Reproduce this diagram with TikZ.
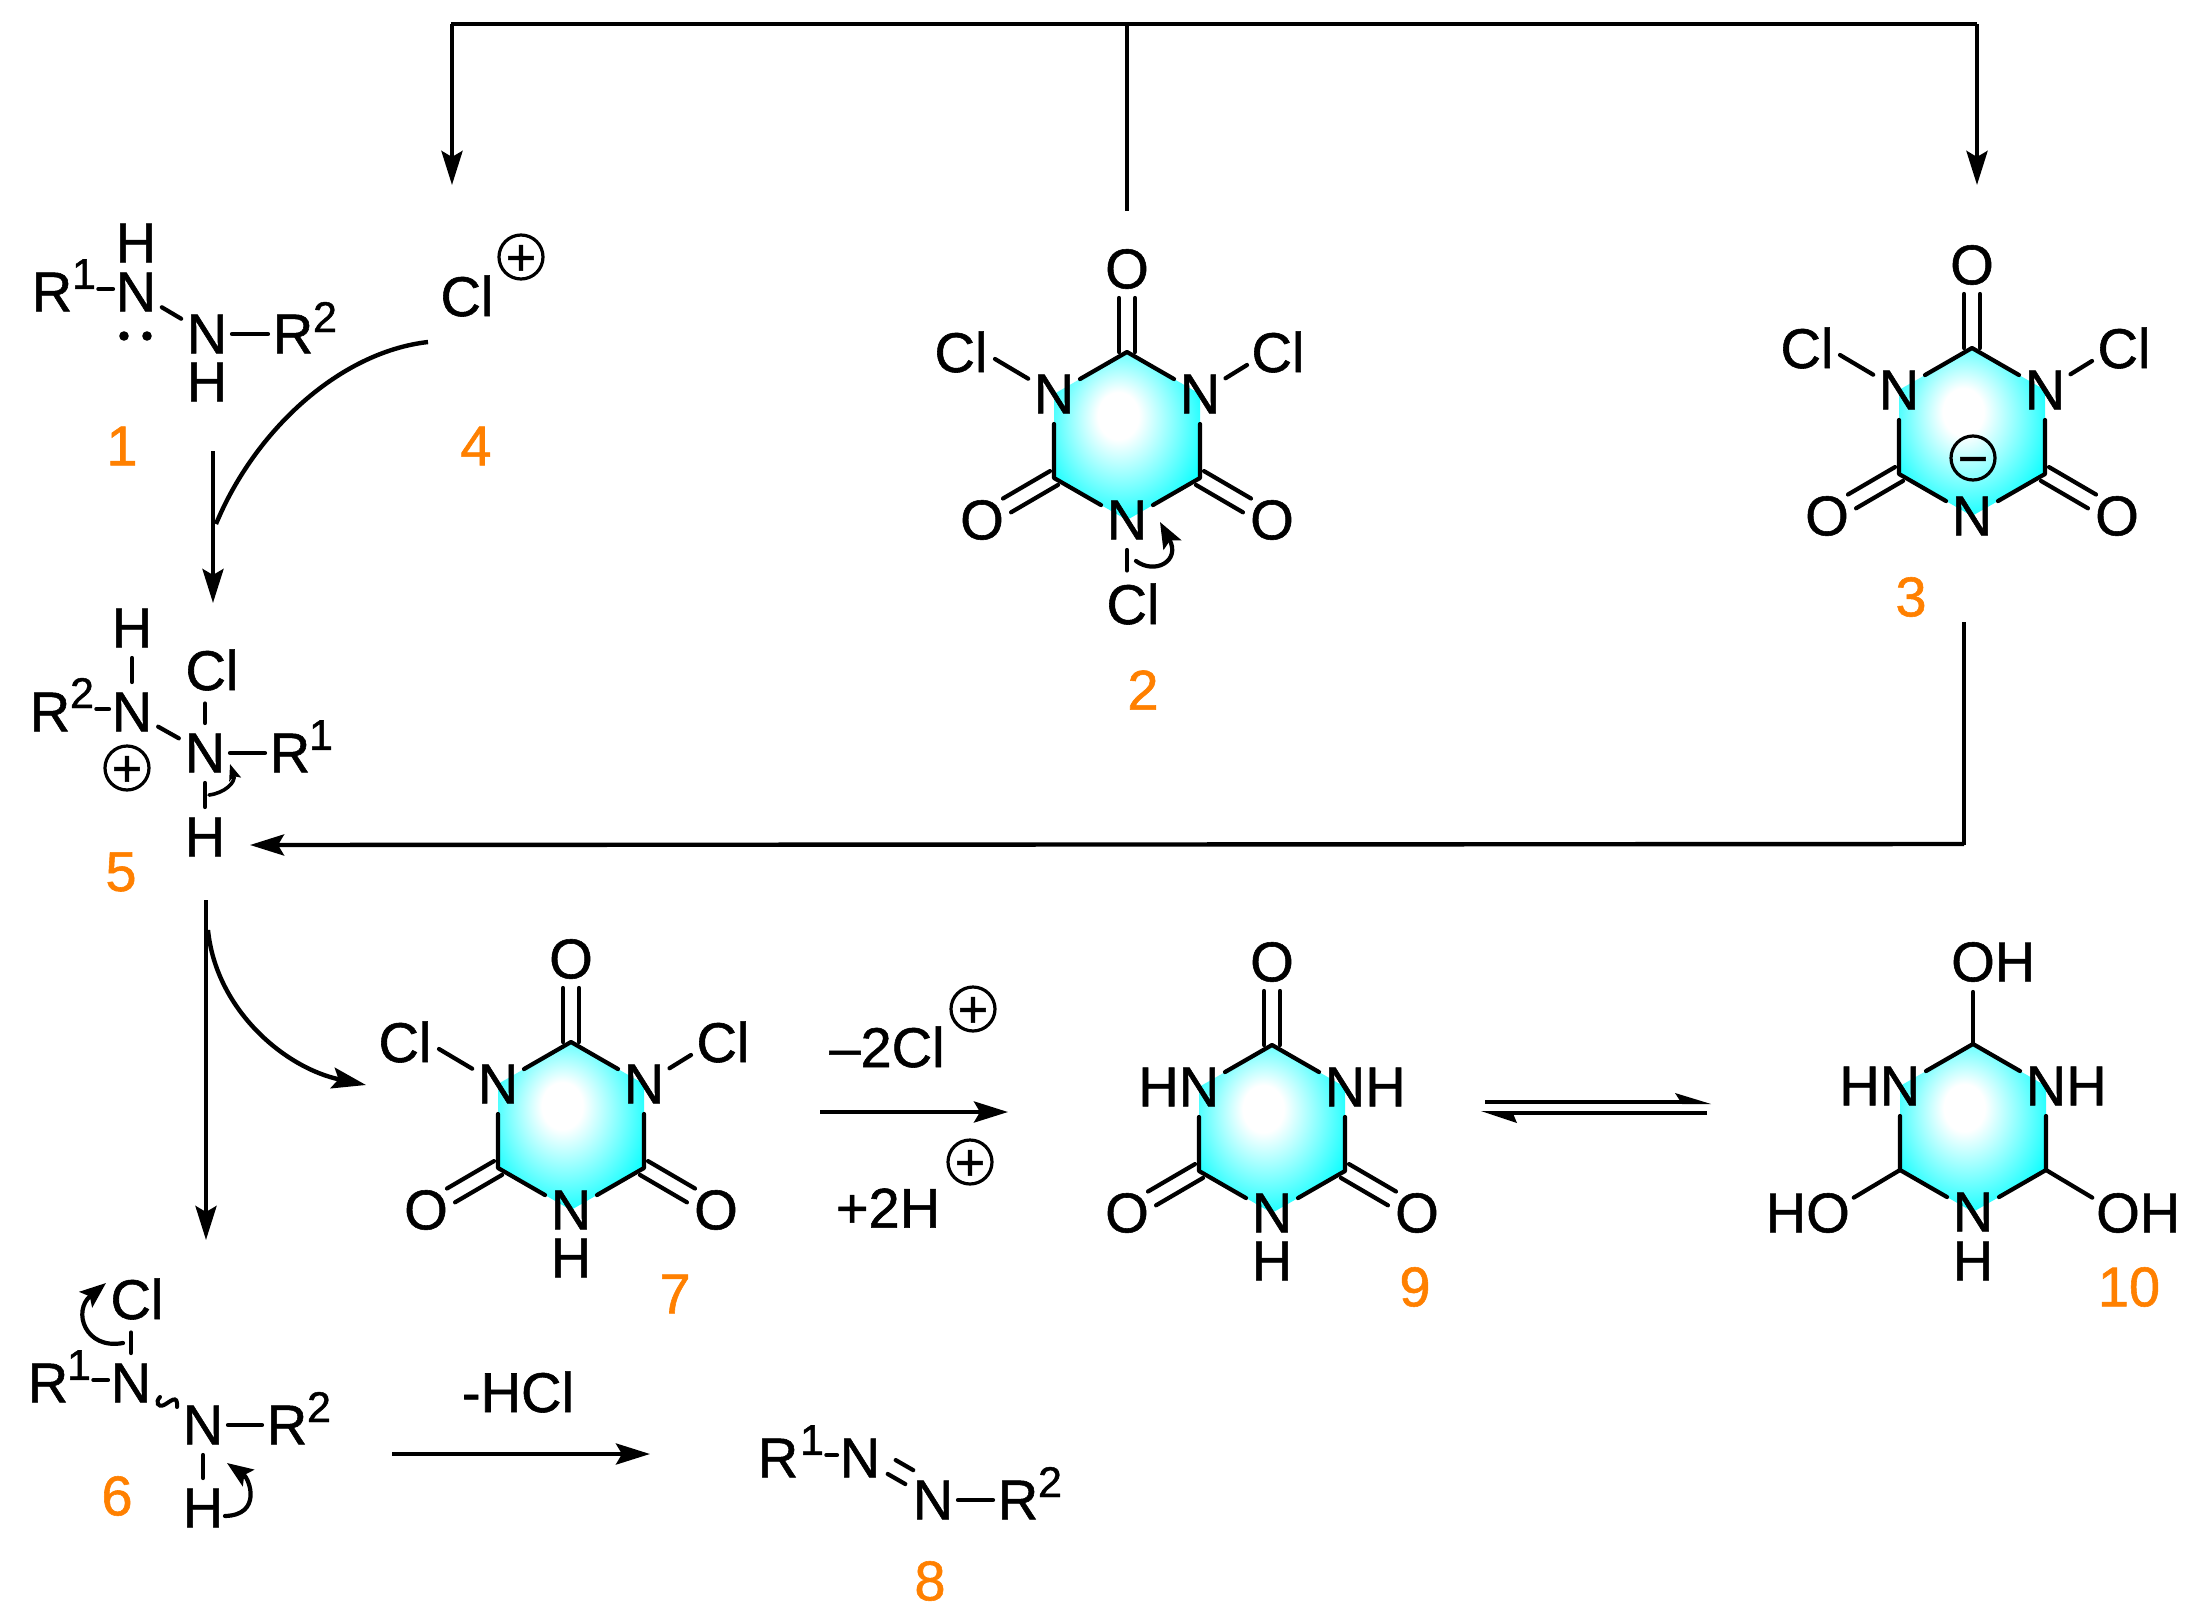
\documentclass[tikz,border=0pt]{standalone}
\usepackage{fontspec}
\setmainfont[FakeBold=1]{Liberation Sans}
\usetikzlibrary{arrows.meta,calc}
\definecolor{ringcyan}{RGB}{10,255,255}
\definecolor{numorange}{RGB}{255,128,0}
\pgfdeclareradialshading{ringglow}{\pgfpoint{-3.5bp}{7bp}}{color(0bp)=(white); color(7bp)=(white); color(30bp)=(ringcyan); color(50bp)=(ringcyan)}
\newcommand\mainfs{\fontsize{28}{30}\selectfont}
\newcommand\supfs{\fontsize{21.5}{23}\selectfont}
\newcommand\chgfs{\fontsize{26}{26}\selectfont}
\newcommand\chg[1]{\smash{\raisebox{-.35em}{#1}}}
\tikzset{
  atom/.style={circle,inner sep=0pt,outer sep=0pt,minimum size=30pt,font=\mainfs},
  txt/.style={inner sep=0pt,font=\mainfs},
  supn/.style={inner sep=0pt,font=\supfs},
  num/.style={inner sep=0pt,font=\mainfs,text=numorange},
  chargec/.style={circle,draw,line width=1.6pt,minimum size=22pt,inner sep=0pt,font=\chgfs},
  pairdot/.style={circle,fill,minimum size=4.8pt,inner sep=0pt},
  bond/.style={line width=2.1pt,line cap=round,line join=round},
  hbond/.style={bond,shorten >=-2.5pt,shorten <=-2.5pt},
  wire/.style={line width=2.2pt},
  arr/.style={line width=2.2pt,-{Stealth[length=17pt,width=10.5pt,inset=3pt]}},
  curlyb/.style={line width=2.1pt,line cap=round,-{Stealth[length=13pt,width=10pt,inset=2.5pt]}},
  curlys/.style={line width=1.8pt,line cap=round,-{Stealth[length=8pt,width=6pt,inset=1.5pt]}},
}
% ring with three ring atoms, inside a shifted, prefixed scope
\newcommand\RingCore[2]{%
  \shade[shading=ringglow] (0,-84) -- (73,-42) -- (73,42) -- (0,84) -- (-73,42) -- (-73,-42) -- cycle;
  \coordinate (c1) at (0,-84);
  \coordinate (c2) at (-73,42);
  \coordinate (c3) at (73,42);
  \node[atom] (nl) at (-73,-42) {#1};
  \node[atom] (nr) at (73,-42) {#2};
  \node[atom] (nb) at (0,84) {N};
  \draw[bond] (nl) -- (c1) -- (nr);
  \draw[bond] (nl) -- (c2) -- (nb) -- (c3) -- (nr);
}
\newcommand\DblO[2]{%
  \draw[bond,shorten >=14.5pt] ($(#1)!4pt!90:(#2)$) -- ($(#2)!4pt!-90:(#1)$);
  \draw[bond,shorten >=14.5pt] ($(#1)!4pt!-90:(#2)$) -- ($(#2)!4pt!90:(#1)$);
}
\newcommand\ThreeKeto{%
  \node[atom] (ot) at (0,-167) {O};
  \node[atom] (oa) at (-145,84) {O};
  \node[atom] (ob) at (145,84) {O};
  \DblO{c1}{ot}\DblO{c2}{oa}\DblO{c3}{ob}
}
\newcommand\ClArms[2]{%
  \node[atom] (cla) at (#1,-84) {Cl};
  \node[atom] (clb) at (#2,-84) {Cl};
  \coordinate (claend) at (-132,-77);
  \coordinate (clbend) at (120,-71);
  \draw[bond] (nl) -- (claend);
  \draw[bond] (nr) -- (clbend);
}
\newcommand\SupDash[2]{%
  \draw[bond] ($(#1.east |- #2.west)+(2,-3)$) -- ($(#2.west)+(7,-3)$);
}
\begin{document}
\begin{tikzpicture}[x=0.5pt,y=-0.5pt]
\path[use as bounding box,fill=white] (0,0) rectangle (2202,1622);

% top distributor
\coordinate (tl) at (451,24);
\coordinate (tm) at (1127,24);
\coordinate (tr) at (1977,24);
\coordinate (tlend) at (452,185);
\coordinate (tmend) at (1127,211);
\coordinate (trend) at (1977,185);
\draw[wire] (tl) -- (tr);
\draw[wire] (tm) -- (tmend);
\draw[arr] (452,24) -- (tlend);
\draw[arr] (1977,24) -- (trend);

% molecule 1
\node[atom] (a1r) at (52,292) {R};
\node[supn] (a1s) at (84,274) {1};
\node[atom] (a1n) at (136,292) {N};
\node[atom] (a1h) at (136,243) {H};
\node[pairdot] (a1d) at (124,336) {};
\node[pairdot] (a1e) at (147,336) {};
\node[atom] (a1m) at (207,334) {N};
\node[atom] (a1i) at (207,382) {H};
\node[atom] (a1q) at (293,334) {R};
\node[supn] (a1t) at (325,317) {2};
\SupDash{a1s}{a1n}
\draw[bond] (a1n) -- (a1m);
\draw[hbond] (a1m) -- (a1q);
\node[num] (l1) at (122,446) {1};

% Cl+ 4
\node[txt] (cl4) at (467,296) {Cl};
\node[chargec] (cl4c) at (521,257) {\chg{+}};
\node[num] (l4) at (476,446) {4};
\coordinate (m1top) at (213,451);
\coordinate (m5tip) at (213,603);
\coordinate (cu4s) at (428,342);
\coordinate (cu4e) at (216,524);
\draw[arr] (m1top) -- (m5tip);
\draw[line width=2.2pt] (cu4s) .. controls (340,352) and (255,430) .. (cu4e);

% molecule 2
\begin{scope}[shift={(1127,436)},name prefix=b-]
  \RingCore{N}{N}
  \ThreeKeto
  \ClArms{-166}{151}
  \node[atom] (clc) at (6,168) {Cl};
  \draw[bond] (nb.south) -- (nb.south |- clc.north);
  \coordinate (cus) at (9,125);
  \coordinate (cue) at (33,86);
  \draw[curlyb] (cus) .. controls (28,139) and (54,125) .. (cue);
  \node[num] (l2) at (16,254) {2};
\end{scope}

% molecule 3
\begin{scope}[shift={(1972,432)},name prefix=c-]
  \RingCore{N}{N}
  \ThreeKeto
  \ClArms{-165}{152}
  \node[chargec] (neg) at (1,26) {\chg{−}};
  \node[num] (l3) at (-61,165) {3};
\end{scope}
\coordinate (w3a) at (1964,622);
\coordinate (w3b) at (1964,845);
\draw[wire] (w3a) -- (w3b);

% molecule 5
\node[atom] (e1h) at (132,628) {H};
\node[atom] (e1n) at (132,712) {N};
\node[atom] (e1r) at (50,712) {R};
\node[supn] (e1s) at (82,693) {2};
\node[atom] (e2n) at (205,753) {N};
\node[atom] (e2c) at (212,670) {Cl};
\node[atom] (e2r) at (290,753) {R};
\node[supn] (e2s) at (321,735) {1};
\node[atom] (e2h) at (205,837) {H};
\node[chargec] (e1c) at (127,768) {\chg{+}};
\node[num] (l5) at (121,872) {5};
\draw[bond] (e1h) -- (e1n);
\SupDash{e1s}{e1n}
\draw[bond] (e1n) -- (e2n);
\draw[bond] (e2n.north) -- (e2n.north |- e2c.south);
\draw[hbond] (e2n) -- (e2r);
\draw[bond] (e2n) -- (e2h);
\coordinate (e5s) at (209,795);
\coordinate (e5t) at (230,764);
\draw[curlys] (e5s) .. controls (225,793) and (236,782) .. (e5t);
\coordinate (h5a) at (1964,844);
\coordinate (h5t) at (250,845);
\draw[arr] (h5a) -- (h5t);

% arrows leaving 5
\coordinate (d5s) at (206,900);
\coordinate (d5e) at (206,1240);
\draw[arr] (d5s) -- (d5e);
\coordinate (d7s) at (208,930);
\coordinate (d7e) at (366,1085);
\draw[arr] (d7s) .. controls (216,1010) and (285,1068) .. (d7e);

% molecule 7
\begin{scope}[shift={(571,1126)},name prefix=g-]
  \RingCore{N}{N}
  \ThreeKeto
  \ClArms{-166}{152}
  \node[atom] (hb) at (0,132) {H};
  \node[num] (l7) at (104,168) {7};
\end{scope}

% -2Cl+ / +2H+
\node[txt] (m2cl) at (887,1047) {–2Cl};
\node[chargec] (m2clc) at (973,1009) {\chg{+}};
\node[txt] (p2h) at (888,1208) {+2H};
\node[chargec] (p2hc) at (970,1162) {\chg{+}};
\coordinate (r7s) at (820,1112);
\coordinate (r7e) at (1008,1112);
\draw[arr] (r7s) -- (r7e);

% molecule 9
\begin{scope}[shift={(1272,1129)},name prefix=i-]
  \RingCore{\llap{H}N}{N\rlap{H}}
  \ThreeKeto
  \node[atom] (hb) at (0,132) {H};
  \node[num] (l9) at (143,158) {9};
\end{scope}

% equilibrium
\coordinate (eq1a) at (1485,1102);
\coordinate (eq1b) at (1690,1102);
\coordinate (eq2a) at (1707,1113);
\coordinate (eq2b) at (1505,1113);
\draw[wire] (eq1a) -- (eq1b);
\draw[wire] (eq2a) -- (eq2b);
\fill (1711,1104) -- (1675,1093) -- (1682,1104) -- cycle;
\fill (1481,1111) -- (1517,1123) -- (1512,1111) -- cycle;

% molecule 10
\begin{scope}[shift={(1973,1128)},name prefix=j-]
  \RingCore{\llap{H}N}{N\rlap{H}}
  \node[atom] (ot) at (0,-166) {O\rlap{H}};
  \node[atom] (oa) at (-145,85) {\llap{H}O};
  \node[atom] (ob) at (145,85) {O\rlap{H}};
  \draw[bond] (c1) -- (ot);
  \draw[bond] (c2) -- (oa);
  \draw[bond] (c3) -- (ob);
  \node[atom] (hb) at (0,133) {H};
  \node[num] (l10) at (156,159) {10};
\end{scope}

% molecule 6
\node[atom] (f1c) at (137,1299) {Cl};
\node[atom] (f1n) at (131,1383) {N};
\node[atom] (f1r) at (48,1383) {R};
\node[supn] (f1s) at (79,1365) {1};
\node[atom] (f2n) at (203,1425) {N};
\node[atom] (f2r) at (287,1425) {R};
\node[supn] (f2s) at (319,1407) {2};
\node[atom] (f2h) at (203,1508) {H};
\node[num] (l6) at (117,1496) {6};
\draw[bond] (f1n.north) -- (f1n.north |- f1c.south);
\SupDash{f1s}{f1n}
\draw[hbond] (f2n) -- (f2r);
\draw[bond] (f2n) -- (f2h);
\coordinate (fw1) at (160,1397);
\coordinate (fw2) at (164,1405);
\coordinate (fw3) at (177,1407);
\draw[line width=2pt,line cap=round] (fw1) .. controls (155,1402) and (158,1408) .. (fw2) .. controls (170,1402) and (178,1393) .. (fw3);
\coordinate (fa1) at (123,1343);
\coordinate (fa2) at (106,1283);
\draw[curlyb] (fa1) .. controls (85,1350) and (72,1311) .. (fa2);
\coordinate (fb1) at (225,1516);
\coordinate (fb2) at (227,1463);
\draw[curlyb] (fb1) .. controls (262,1515) and (250,1479) .. (fb2);

% -HCl
\node[txt] (hcl) at (518,1392) {-HCl};
\coordinate (r6s) at (392,1454);
\coordinate (r6e) at (650,1454);
\draw[arr] (r6s) -- (r6e);

% molecule 8
\node[atom] (h1r) at (778,1458) {R};
\node[supn] (h1s) at (812,1440) {1};
\node[atom] (h1n) at (860,1458) {N};
\node[atom] (h2n) at (933,1500) {N};
\node[atom] (h2r) at (1018,1500) {R};
\node[supn] (h2s) at (1050,1482) {2};
\node[num] (l8) at (930,1581) {8};
\SupDash{h1s}{h1n}
\draw[hbond] (h2n) -- (h2r);
\draw[bond,shorten >=16pt,shorten <=16pt] (h1n.center) -- (h2n.center);
\draw[bond,shorten >=16pt,shorten <=16pt] ($(h1n)!8pt!90:(h2n)$) -- ($(h2n)!8pt!-90:(h1n)$);
\end{tikzpicture}
\end{document}
